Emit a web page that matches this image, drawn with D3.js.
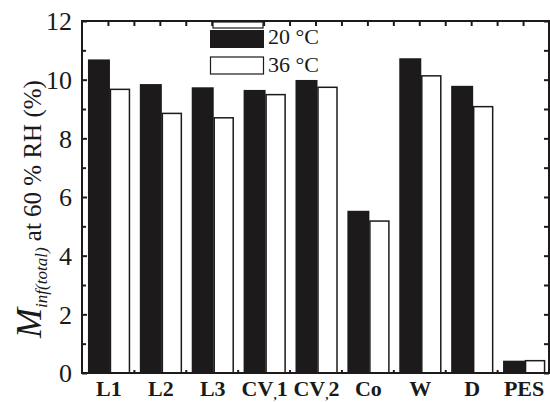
<!DOCTYPE html>
<html>
<head>
<meta charset="utf-8">
<script src="https://cdn.jsdelivr.net/npm/d3@7"></script>
<style>
  body { margin: 0; background: #fff; }
  text { font-family: "Liberation Serif", "Times New Roman", serif; fill: #1a1a1a; }
</style>
</head>
<body>
<script>
// samples on the x axis
const samples = ["L1", "L2", "L3", "CV1", "CV2", "Co", "W", "D", "PES"];
// M_inf(total) at 60 % RH, in %
const at20 = [10.69, 9.85, 9.74, 9.65, 9.99, 5.53, 10.73, 9.79, 0.42];
const at36 = [9.67, 8.85, 8.70, 9.49, 9.74, 5.18, 10.13, 9.08, 0.42];
const seriesNames = ["20 °C", "36 °C"];
const yTicks = [0, 2, 4, 6, 8, 10, 12];
const yMinor = [1, 3, 5, 7, 9, 11];

let margin = { top: 21, right: 1, bottom: 29, left: 82 },
  width = 550 - margin.left - margin.right,
  height = 402 - margin.top - margin.bottom;

let svg = d3.select("body").append("svg")
  .attr("width", 550)
  .attr("height", 402)
  .append("g")
  .attr("transform", "translate(" + margin.left + "," + margin.top + ")");

let x = d3.scaleBand().domain(samples).range([0, width]).padding(0);
let y = d3.scaleLinear().domain([0, 12]).range([height, 0]);
let ink = "#1c1a1b";

// bars
samples.forEach((s, i) => {
  let c = x(s) + x.bandwidth() / 2;
  svg.append("rect")
    .attr("x", c - 20).attr("width", 22)
    .attr("y", y(at20[i])).attr("height", y(0) - y(at20[i]))
    .attr("fill", ink);
  svg.append("rect")
    .attr("x", c + 2.5).attr("width", 19)
    .attr("y", y(at36[i])).attr("height", y(0) - y(at36[i]))
    .attr("fill", "#fff").attr("stroke", ink).attr("stroke-width", 1.5);
});

// left axis
svg.append("g")
  .attr("class", "axis")
  .call(d3.axisLeft(y).tickValues(yTicks).tickSize(-5).tickPadding(10).tickFormat(d => d))
  .call(g => g.select(".domain").remove())
  .call(g => g.selectAll("text").attr("font-size", 26).attr("dy", "0.34em"));
svg.append("g")
  .call(d3.axisLeft(y).tickValues(yMinor).tickSize(-4).tickFormat(""))
  .call(g => g.select(".domain").remove());

// right axis
svg.append("g")
  .attr("transform", "translate(" + width + ",0)")
  .call(d3.axisRight(y).tickValues(yTicks.concat(yMinor)).tickSize(-5).tickFormat(""))
  .call(g => g.select(".domain").remove());

// top axis: ticks at category centres and boundaries
let xl = d3.scaleLinear().domain([0, samples.length]).range([0, width]);
let topTicks = d3.range(1, samples.length * 2).map(k => k / 2);
svg.append("g")
  .call(d3.axisTop(xl).tickValues(topTicks).tickSize(-5).tickFormat(""))
  .call(g => g.select(".domain").remove());

// bottom axis
svg.append("g")
  .attr("transform", "translate(0," + height + ")")
  .call(d3.axisBottom(xl).tickValues(d3.range(1, samples.length)).tickSize(-3).tickFormat(""))
  .call(g => g.select(".domain").remove());

svg.selectAll(".tick line").attr("stroke", ink).attr("stroke-width", 2);

// category labels
let lab = svg.append("g").selectAll("text")
  .data(samples).enter().append("text")
  .attr("x", d => x(d) + x.bandwidth() / 2 + 1)
  .attr("y", height + 23)
  .attr("text-anchor", "middle")
  .attr("font-size", 22)
  .attr("font-weight", "bold");
lab.each(function(d) {
  let t = d3.select(this);
  if (d.startsWith("CV")) {
    t.append("tspan").text("CV");
    t.append("tspan").attr("font-size", 13).attr("dy", 3).text(",");
    t.append("tspan").attr("dy", -3).text(d.slice(2));
  } else {
    t.text(d);
  }
});

// frame
svg.append("rect")
  .attr("width", width).attr("height", height)
  .attr("fill", "none").attr("stroke", ink).attr("stroke-width", 2);

// legend
let leg = svg.append("g").attr("transform", "translate(128,0)");
leg.append("rect").attr("x", 3).attr("y", 1).attr("width", 50).attr("height", 6)
  .attr("fill", "#fff").attr("stroke", ink).attr("stroke-width", 1.2);
leg.append("rect").attr("x", 0).attr("y", 9).attr("width", 54).attr("height", 18)
  .attr("fill", ink);
leg.append("rect").attr("x", 0.5).attr("y", 36).attr("width", 53).attr("height", 17)
  .attr("fill", "#fff").attr("stroke", ink).attr("stroke-width", 1.2);
seriesNames.forEach((n, i) => {
  leg.append("text")
    .attr("x", 58).attr("y", 23 + i * 28)
    .attr("font-size", 22)
    .text(n);
});

// y label
let yl = d3.select("svg").append("text")
  .attr("transform", "translate(41," + (margin.top + 188) + ") rotate(-90)")
  .attr("text-anchor", "middle")
  .attr("font-size", 25);
yl.append("tspan").attr("font-style", "italic").attr("font-size", 36).text("M");
yl.append("tspan").attr("font-style", "italic").attr("font-size", 17).attr("dy", 6).text("inf(total)");
yl.append("tspan").attr("dy", -6).text(" at 60 % RH (%)");
</script>
</body>
</html>
